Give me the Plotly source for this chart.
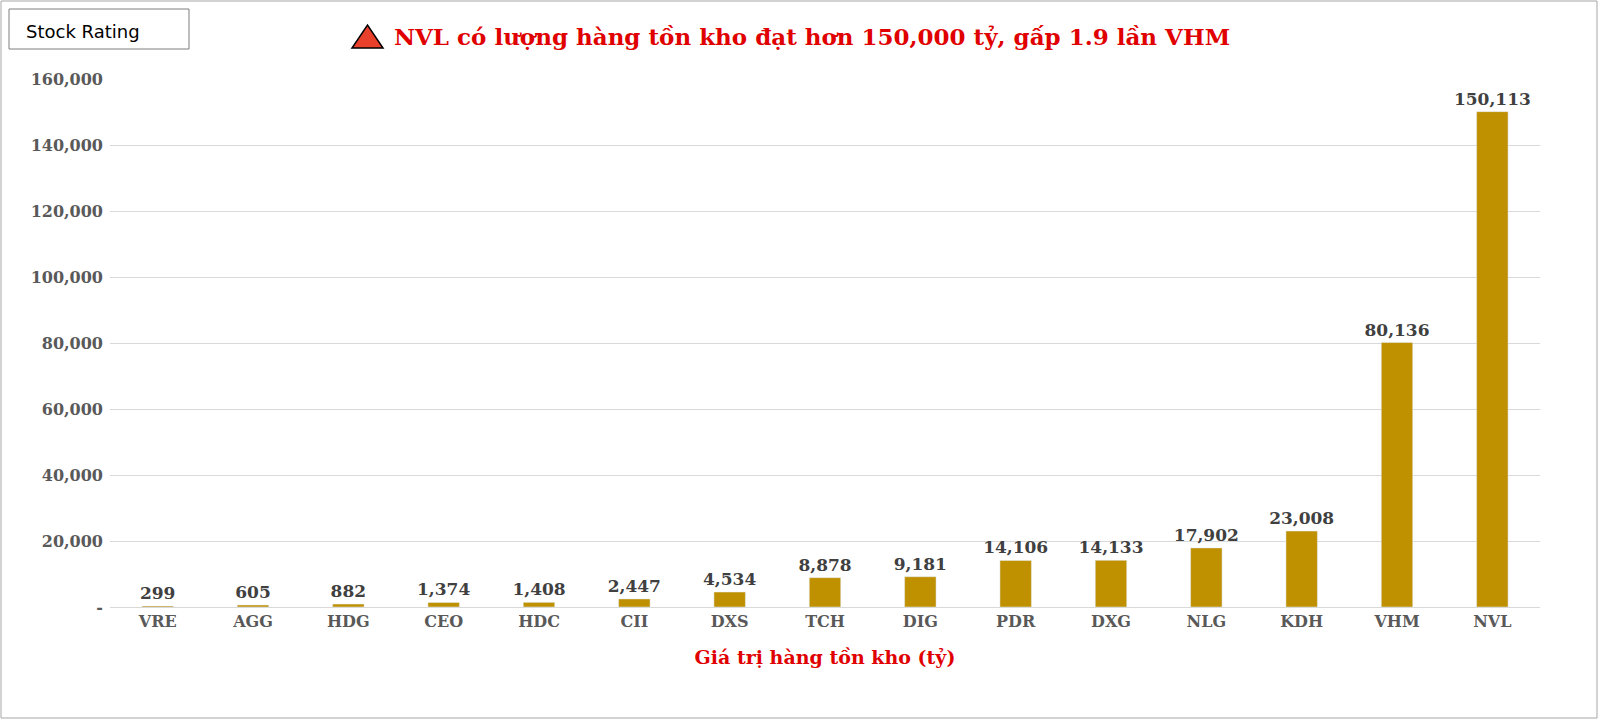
import plotly.graph_objects as go

tickers = ["VRE","AGG","HDG","CEO","HDC","CII","DXS","TCH","DIG","PDR","DXG","NLG","KDH","VHM","NVL"]
values = [299,605,882,1374,1408,2447,4534,8878,9181,14106,14133,17902,23008,80136,150113]
labels = [f"<b>{v:,}</b>" for v in values]

W, H = 1599, 720
L, R, T, B = 110, 1599 - 1540, 79, 720 - 607
pw, ph = W - L - R, H - T - B
def px(x): return (x - L) / pw
def py(y): return (H - B - y) / ph

font = "DejaVu Serif, serif"
fig = go.Figure(go.Bar(x=tickers, y=values, width=0.33, marker_color="#BF9000",
                       text=labels, textposition="outside", constraintext="none",
                       textfont=dict(family=font, size=17, color="#404040"), cliponaxis=False))
fig.update_layout(
    width=W, height=H, margin=dict(l=L, r=R, t=T, b=B),
    paper_bgcolor="white", plot_bgcolor="white", showlegend=False,
    font=dict(family=font),
    uniformtext=dict(minsize=17),
    xaxis=dict(tickfont=dict(family=font, size=16, color="#595959"), showline=True,
               linecolor="#D9D9D9", ticks="",
               tickvals=tickers, ticktext=[f"<b>{t}</b>" for t in tickers],
               title=dict(text="<b>Giá trị hàng tồn kho (tỷ)</b>", font=dict(family=font, size=19, color="#E00000"), standoff=20)),
    yaxis=dict(range=[0, 160000], tickvals=list(range(0, 160001, 20000)),
               ticktext=["<b>-</b>"] + [f"<b>{v:,}</b>" for v in range(20000, 160001, 20000)],
               tickfont=dict(family=font, size=16, color="#595959"),
               gridcolor="#D9D9D9", zeroline=False, ticks="", ticklabelstandoff=6),
    shapes=[
        dict(type="rect", xref="paper", yref="paper", x0=px(1), x1=px(1597), y0=py(718), y1=py(1),
             line=dict(color="#A6A6A6", width=1)),
        dict(type="rect", xref="paper", yref="paper", x0=px(9), x1=px(189), y0=py(49), y1=py(9),
             line=dict(color="#7F7F7F", width=1)),
        dict(type="path", xref="paper", yref="paper",
             path=f"M {px(352)},{py(48)} L {px(383)},{py(48)} L {px(367.5)},{py(25)} Z",
             fillcolor="#E8402A", line=dict(color="black", width=1.5)),
    ],
    annotations=[
        dict(text="Stock Rating", xref="paper", yref="paper", x=px(24), y=py(31), xanchor="left",
             yanchor="middle", showarrow=False, font=dict(family="DejaVu Sans, Arial", size=18, color="black")),
        dict(text="<b>NVL có lượng hàng tồn kho đạt hơn 150,000 tỷ, gấp 1.9 lần VHM</b>", xref="paper", yref="paper",
             x=px(392), y=py(37), xanchor="left", yanchor="middle", showarrow=False,
             font=dict(family=font, size=23, color="#E00000")),
    ],
)
fig.write_html("out.html", config={"displayModeBar": False},
               post_script="document.body.style.margin='0';document.body.style.overflow='hidden';")
